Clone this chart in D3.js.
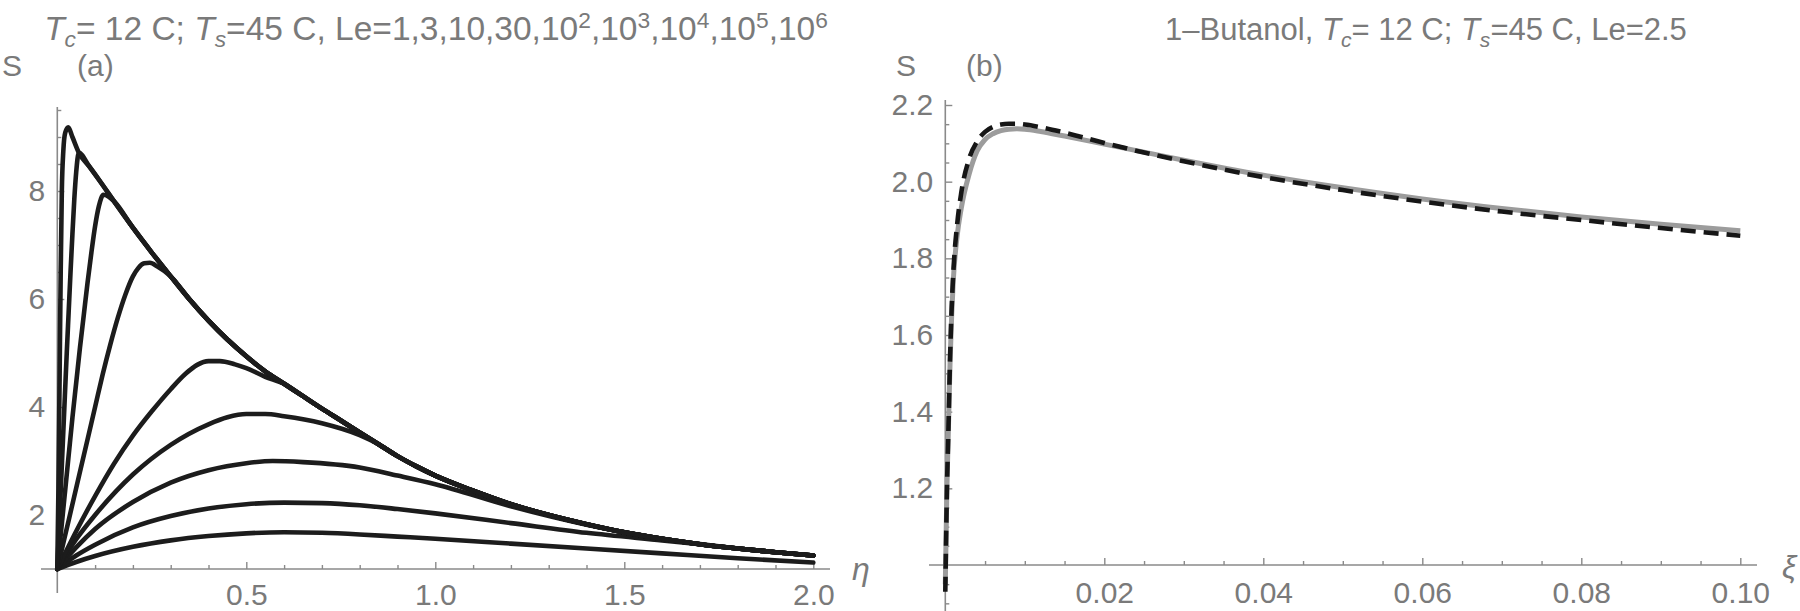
<!DOCTYPE html>
<html>
<head>
<meta charset="utf-8">
<script src="https://cdn.jsdelivr.net/npm/d3@7"></script>
<style>
  body { margin: 0; background: #fff; }
  svg { display: block; }
  text { font-family: "Liberation Sans", Arial, sans-serif; fill: #7a7a7a; }
</style>
</head>
<body>
<div id="chart"></div>
<script>
// ---- panel (a): S(eta) for several Lewis numbers ----
const leLabels = ["1", "3", "10", "30", "10^2", "10^3", "10^4", "10^5", "10^6"];

// common upper envelope that the large-Le curves run into
const envelope = [[0.057,8.71],[0.085,8.45],[0.113,8.18],[0.15,7.81],[0.2,7.32],[0.25,6.86],[0.3,6.42],
  [0.35,5.99],[0.4,5.6],[0.45,5.25],[0.5,4.94],[0.55,4.66],[0.6,4.43],[0.65,4.2],[0.7,3.97],[0.75,3.75],
  [0.8,3.53],[0.85,3.31],[0.9,3.09],[0.95,2.9],[1.0,2.73],[1.1,2.45],[1.2,2.2],[1.3,2.0],[1.4,1.83],
  [1.5,1.68],[1.6,1.56],[1.7,1.46],[1.8,1.38],[1.9,1.31],[2.0,1.25]];

const curveLe1 = [[0,1],[0.05,1.13],[0.1,1.24],[0.2,1.41],[0.3,1.53],[0.4,1.61],[0.5,1.66],[0.6,1.68],
  [0.7,1.67],[0.8,1.64],[0.9,1.6],[1.0,1.56],[1.2,1.47],[1.4,1.38],[1.6,1.29],[1.8,1.2],[2.0,1.12]];
const curveLe3 = [[0,1],[0.05,1.25],[0.1,1.45],[0.2,1.77],[0.3,1.98],[0.4,2.12],[0.5,2.2],[0.6,2.23],
  [0.7,2.22],[0.8,2.18],[0.9,2.11],[1.0,2.03],[1.2,1.85],[1.4,1.67],[1.6,1.53]];
const curveLe10 = [[0,1],[0.05,1.4],[0.1,1.74],[0.2,2.24],[0.3,2.6],[0.4,2.83],[0.5,2.96],[0.57,3.0],
  [0.65,2.98],[0.8,2.88],[0.9,2.73],[1.0,2.57],[1.2,2.16],[1.4,1.82]];
const curveLe30 = [[0,1],[0.05,1.55],[0.1,2.0],[0.2,2.75],[0.3,3.3],[0.4,3.68],[0.45,3.81],[0.5,3.87],
  [0.55,3.87],[0.6,3.83],[0.7,3.7],[0.8,3.48]];
const curveLe1e2 = [[0,1],[0.05,1.7],[0.1,2.35],[0.15,2.95],[0.2,3.47],[0.25,3.92],[0.3,4.33],[0.34,4.62],
  [0.37,4.78],[0.4,4.85],[0.43,4.85],[0.47,4.79],[0.5,4.72],[0.55,4.56]];
const curveLe1e3 = [[0,1],[0.02,1.6],[0.04,2.2],[0.06,2.8],[0.08,3.4],[0.1,4.0],[0.12,4.6],[0.14,5.15],
  [0.16,5.65],[0.18,6.08],[0.2,6.42],[0.215,6.58],[0.23,6.66],[0.245,6.67],[0.265,6.6]];
const curveLe1e4 = [[0,1],[0.01,1.7],[0.02,2.4],[0.03,3.1],[0.04,3.8],[0.05,4.45],[0.06,5.1],[0.07,5.7],
  [0.08,6.3],[0.09,6.85],[0.1,7.35],[0.11,7.72],[0.122,7.93],[0.135,7.9]];
const curveLe1e5 = [[0,1],[0.005,1.8],[0.01,2.6],[0.015,3.4],[0.02,4.2],[0.025,5.0],[0.03,5.75],
  [0.035,6.5],[0.04,7.2],[0.045,7.85],[0.05,8.35],[0.057,8.71]];
const curveLe1e6 = [[0,1],[0.003,2.5],[0.006,4.5],[0.009,6.5],[0.012,8.0],[0.016,8.75],[0.021,9.08],
  [0.029,9.18],[0.04,9.0],[0.057,8.71]];

const etaTicks = [0.5, 1.0, 1.5, 2.0];
const sTicksA = [2, 4, 6, 8];

// ---- panel (b): 1-Butanol, two solutions ----
const xiB = [0,0.0002,0.0004,0.0006,0.0008,0.001,0.0015,0.002,0.003,0.004,0.005,0.006,0.007,0.008,
  0.009,0.01,0.012,0.015,0.02,0.025,0.03,0.04,0.05,0.06,0.07,0.08,0.09,0.1];
const sGray = [0.95,1.2,1.36,1.53,1.65,1.74,1.86,1.93,2.02,2.08,2.11,2.125,2.133,2.137,2.138,2.137,
  2.131,2.119,2.098,2.077,2.056,2.017,1.984,1.955,1.93,1.908,1.889,1.872];
const sDashed = [0.93,1.19,1.36,1.54,1.67,1.76,1.89,1.97,2.06,2.105,2.13,2.143,2.149,2.151,2.151,2.149,
  2.142,2.128,2.101,2.076,2.053,2.012,1.978,1.948,1.922,1.9,1.879,1.859];

const xiTicks = [0.02, 0.04, 0.06, 0.08, 0.10];
const sTicksB = [1.2, 1.4, 1.6, 1.8, 2.0, 2.2];

const axisColor = "#8a8a8a";

const svg = d3.select("#chart").append("svg")
  .attr("width", 1800)
  .attr("height", 611);

// append the envelope tail after the last point of a curve
function withEnvelope(own) {
  const last = own[own.length - 1][0];
  return own.concat(envelope.filter(p => p[0] > last));
}

// title with italic T, subscripts and superscripts
function addTitle(x, y, size, parts) {
  const t = svg.append("text")
    .attr("x", x).attr("y", y)
    .attr("text-anchor", "middle")
    .attr("font-size", size);
  let shift = 0;
  parts.forEach(p => {
    const target = p.sub ? 7 : p.sup ? -12 : 0;
    const ts = t.append("tspan").text(p.t).attr("dy", target - shift);
    if (p.sub || p.sup) ts.attr("font-size", size * 0.68);
    if (p.it) ts.attr("font-style", "italic");
    shift = target;
  });
}

function drawAxes(x, y, o) {
  // axis lines, slightly longer than the data range
  svg.append("line")
    .attr("x1", o.xFrom).attr("x2", o.xTo)
    .attr("y1", y(o.yAt)).attr("y2", y(o.yAt))
    .attr("stroke", axisColor).attr("stroke-width", 1.6);
  svg.append("line")
    .attr("x1", x(0)).attr("x2", x(0))
    .attr("y1", o.yFrom).attr("y2", o.yTo)
    .attr("stroke", axisColor).attr("stroke-width", 1.6);

  // minor ticks
  const gxm = svg.append("g").attr("transform", `translate(0,${y(o.yAt)})`)
    .call(d3.axisBottom(x).tickValues(o.xMinor).tickSize(-4).tickFormat(""));
  const gym = svg.append("g").attr("transform", `translate(${x(0)},0)`)
    .call(d3.axisLeft(y).tickValues(o.yMinor).tickSize(-4).tickFormat(""));
  // major ticks with labels
  const gx = svg.append("g").attr("transform", `translate(0,${y(o.yAt)})`)
    .call(d3.axisBottom(x).tickValues(o.xMajor).tickSize(-7).tickPadding(o.xPad).tickFormat(o.xFmt));
  const gy = svg.append("g").attr("transform", `translate(${x(0)},0)`)
    .call(d3.axisLeft(y).tickValues(o.yMajor).tickSize(-7).tickPadding(12).tickFormat(o.yFmt));

  [gxm, gym, gx, gy].forEach(g => {
    g.select(".domain").remove();
    g.selectAll("line").attr("stroke", axisColor).attr("stroke-width", 1.4);
    g.selectAll("text").attr("font-size", 30).attr("fill", "#7a7a7a")
      .attr("font-family", "'Liberation Sans', Arial, sans-serif");
  });
}

// ================= panel (a) =================
const xA = d3.scaleLinear().domain([0, 2]).range([57.3, 813.3]);
const yA = d3.scaleLinear().domain([1, 8]).range([569, 191]);

addTitle(436, 40, 33.5, [
  { t: "T", it: 1 }, { t: "c", it: 1, sub: 1 }, { t: "= 12 C; " },
  { t: "T", it: 1 }, { t: "s", it: 1, sub: 1 }, { t: "=45 C, Le=" },
  ...leLabels.flatMap((l, i) => {
    const sep = i < leLabels.length - 1 ? "," : "";
    if (l.includes("^")) {
      const [b, e] = l.split("^");
      return [{ t: b }, { t: e, sup: 1 }, { t: sep }];
    }
    return [{ t: l + sep }];
  })
]);

svg.append("text").attr("x", 2).attr("y", 76).attr("font-size", 30).text("S");
svg.append("text").attr("x", 77).attr("y", 76).attr("font-size", 30).text("(a)");

drawAxes(xA, yA, {
  yAt: 1, xFrom: 41, xTo: 830, yFrom: 107, yTo: 593,
  xMinor: d3.range(1, 21).map(i => i / 10).filter(v => Math.abs(v * 2 - Math.round(v * 2)) > 1e-9),
  xMajor: etaTicks, xPad: 15, xFmt: d3.format(".1f"),
  yMinor: d3.range(3, 20).map(i => i / 2).filter(v => v % 2 !== 0),
  yMajor: sTicksA, yFmt: d3.format("d")
});

svg.append("text").attr("x", 852).attr("y", 580).attr("font-size", 32)
  .attr("font-style", "italic").text("η");

const lineA = d3.line()
  .x(d => xA(d[0]))
  .y(d => yA(d[1]))
  .curve(d3.curveMonotoneX);

const curvesA = [curveLe1, curveLe3, curveLe10, curveLe30, curveLe1e2,
  curveLe1e3, curveLe1e4, curveLe1e5, curveLe1e6].map(withEnvelope);

svg.append("g").selectAll("path")
  .data(curvesA)
  .join("path")
  .attr("d", lineA)
  .attr("fill", "none")
  .attr("stroke", "#1c1c1c")
  .attr("stroke-width", 4.6)
  .attr("stroke-linejoin", "round")
  .attr("stroke-linecap", "round");

// ================= panel (b) =================
const xB = d3.scaleLinear().domain([0, 0.1]).range([945.3, 1740.3]);
const yB = d3.scaleLinear().domain([1.0, 2.2]).range([565, 105]);

addTitle(1426, 40, 31, [
  { t: "1\u2013Butanol, " }, { t: "T", it: 1 }, { t: "c", it: 1, sub: 1 }, { t: "= 12 C; " },
  { t: "T", it: 1 }, { t: "s", it: 1, sub: 1 }, { t: "=45 C, Le=2.5" }
]);

svg.append("text").attr("x", 896).attr("y", 76).attr("font-size", 30).text("S");
svg.append("text").attr("x", 966).attr("y", 76).attr("font-size", 30).text("(b)");

drawAxes(xB, yB, {
  yAt: 1.0, xFrom: 929, xTo: 1757, yFrom: 100, yTo: 611,
  xMinor: d3.range(1, 21).map(i => i * 0.005).filter(v => Math.abs(v * 50 - Math.round(v * 50)) > 1e-9),
  xMajor: xiTicks, xPad: 17, xFmt: d3.format(".2f"),
  yMinor: d3.range(18, 44).map(i => i * 0.05).filter(v => Math.abs(v * 5 - Math.round(v * 5)) > 1e-9),
  yMajor: sTicksB, yFmt: d3.format(".1f")
});

svg.append("text").attr("x", 1782).attr("y", 578).attr("font-size", 32)
  .attr("font-style", "italic").text("ξ");

const lineB = d3.line()
  .x(d => xB(d[0]))
  .y(d => yB(d[1]))
  .curve(d3.curveMonotoneX);

svg.append("path")
  .attr("d", lineB(xiB.map((v, i) => [v, sGray[i]])))
  .attr("fill", "none")
  .attr("stroke", "#9c9c9c")
  .attr("stroke-width", 5);

svg.append("path")
  .attr("d", lineB(xiB.map((v, i) => [v, sDashed[i]])))
  .attr("fill", "none")
  .attr("stroke", "#161616")
  .attr("stroke-width", 4.6)
  .attr("stroke-dasharray", "15,8");
</script>
</body>
</html>
